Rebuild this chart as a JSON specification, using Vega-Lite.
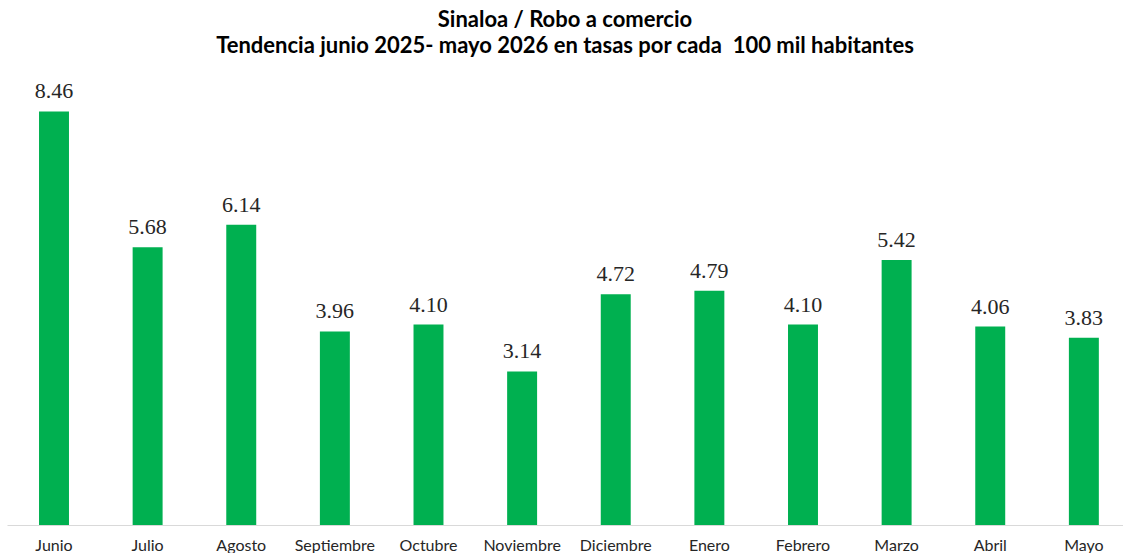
{
  "$schema": "https://vega.github.io/schema/vega-lite/v6.json",
  "width": 1116,
  "height": 440,
  "padding": {"top": 9, "left": 7, "right": 0, "bottom": 0},
  "background": "white",
  "title": {
    "text": ["Sinaloa / Robo a comercio", "Tendencia junio 2025- mayo 2026 en tasas por cada \u00a0100 mil habitantes"],
    "font": "Lato",
    "fontSize": 22,
    "fontWeight": "bold",
    "color": "#000000",
    "lineHeight": 26,
    "offset": 22,
    "anchor": "middle"
  },
  "data": {
    "values": [
      {"mes": "Junio", "tasa": 8.46},
      {"mes": "Julio", "tasa": 5.68},
      {"mes": "Agosto", "tasa": 6.14},
      {"mes": "Septiembre", "tasa": 3.96},
      {"mes": "Octubre", "tasa": 4.10},
      {"mes": "Noviembre", "tasa": 3.14},
      {"mes": "Diciembre", "tasa": 4.72},
      {"mes": "Enero", "tasa": 4.79},
      {"mes": "Febrero", "tasa": 4.10},
      {"mes": "Marzo", "tasa": 5.42},
      {"mes": "Abril", "tasa": 4.06},
      {"mes": "Mayo", "tasa": 3.83}
    ]
  },
  "encoding": {
    "x": {
      "field": "mes",
      "type": "nominal",
      "sort": null,
      "scale": {"paddingInner": 0.68, "paddingOuter": 0.3, "align": 0.57},
      "axis": {
        "title": null,
        "labelAngle": 0,
        "ticks": false,
        "domainColor": "#d9d9d9",
        "domainWidth": 1,
        "labelFont": "Lato",
        "labelFontSize": 16,
        "labelColor": "#262626",
        "labelPadding": 12,
        "grid": false
      }
    },
    "y": {
      "field": "tasa",
      "type": "quantitative",
      "scale": {"domain": [0, 9], "nice": false},
      "axis": null
    }
  },
  "layer": [
    {"mark": {"type": "bar", "color": "#00b050"}},
    {
      "mark": {"type": "text", "baseline": "bottom", "dy": -8, "font": "Liberation Serif", "fontSize": 22, "color": "#262626"},
      "encoding": {"text": {"field": "tasa", "type": "quantitative", "format": ".2f"}}
    }
  ],
  "config": {"view": {"stroke": null}}
}
